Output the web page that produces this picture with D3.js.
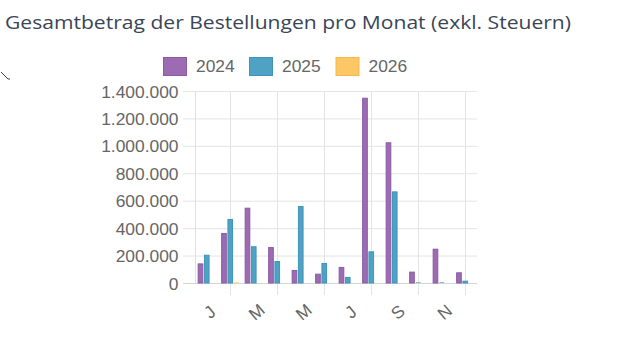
<!DOCTYPE html>
<html><head><meta charset="utf-8">
<script src="https://cdn.jsdelivr.net/npm/d3@7"></script>
<style>body{margin:0;background:#fff}svg{display:block}</style>
</head><body><svg id="c" width="643" height="343"></svg>
<script>
const months = ["J","F","M","A","M","J","J","A","S","O","N","D"];
const seriesNames = ["2024","2025","2026"];
const values2024 = [143000,365000,549000,262000,95000,68000,117000,1351000,1026000,83000,250000,78000];
const values2025 = [206000,467000,268000,160000,561000,146000,44000,231000,668000,4000,4000,17000];
const values2026 = [0,2000,0,0,0,0,0,0,0,0,0,0];
const yTicks = [0,200000,400000,600000,800000,1000000,1200000,1400000];
const titleText = "Gesamtbetrag der Bestellungen pro Monat (exkl. Steuern)";

const fills = ["#9c6bb2","#4fa2c3","#fdc765"];
const strokes = ["#8b5aa4","#3f95b9","#f5b94a"];
const allSeries = [values2024, values2025, values2026];

const svg = d3.select("#c");
const pLeft = 195, pRight = 477, pTop = 91, pBottom = 283;
const x = d3.scaleBand().domain(d3.range(12)).range([pLeft, pRight]).padding(0);
const bw = x.bandwidth();
const x1 = d3.scaleBand().domain(d3.range(3)).range([bw*0.1, bw*0.9]).paddingInner(0);
const y = d3.scaleLinear().domain([0,1400000]).range([pBottom, pTop]);
const fmt = v => d3.format(",")(v).replace(/,/g, ".");

// title
svg.append("text").attr("x",5).attr("y",29).attr("font-family","'Open Sans', Lato, sans-serif")
  .attr("font-size",19).attr("font-weight",400).attr("fill","#3a4555").attr("textLength",566).attr("lengthAdjust","spacingAndGlyphs")
  .text(titleText);

// stray cursor mark
svg.append("path").attr("d","M1,72 L6,77 L8,79 L10,79").attr("fill","none").attr("stroke","#444").attr("stroke-width",1);

// legend
const legX = [163.5, 249.5, 336];
seriesNames.forEach((n,i)=>{
  svg.append("rect").attr("x",legX[i]).attr("y",57.5).attr("width",23).attr("height",18)
    .attr("fill",fills[i]).attr("stroke",strokes[i]).attr("stroke-width",1);
  svg.append("text").attr("x",legX[i]+32.5).attr("y",72).attr("font-family","'Liberation Sans', Arial, sans-serif")
    .attr("font-size",17.4).attr("fill","#666").text(n);
});

// horizontal grid + y ticks
const yAxis = d3.axisLeft(y).tickValues(yTicks).tickFormat(fmt).tickSize(0);
const gy = svg.append("g").attr("transform",`translate(${pLeft-12},0)`).call(yAxis);
gy.select(".domain").remove();
gy.selectAll(".tick line").attr("stroke","#e4e4e4").attr("x1",0).attr("x2",pRight-pLeft+12);
gy.selectAll(".tick text").attr("x",-4.5).attr("dy","0.35em").attr("text-anchor","end")
  .attr("font-family","'Liberation Sans', Arial, sans-serif").attr("font-size",17.4).attr("fill","#666");

// vertical grid lines (between shown ticks) + tick marks
const gridIdx = [1,3,5,7,9,11];
gridIdx.forEach(i=>{
  const gx = Math.round(x(i)+bw/2)+0.5;
  svg.append("line").attr("x1",gx).attr("x2",gx).attr("y1",pTop).attr("y2",pBottom+12).attr("stroke","#e4e4e4");
});
svg.append("line").attr("x1",pLeft+0.5).attr("x2",pLeft+0.5).attr("y1",pTop).attr("y2",pBottom).attr("stroke","#e0e0e0");
svg.append("line").attr("x1",pLeft-12).attr("x2",pRight).attr("y1",pBottom+0.5).attr("y2",pBottom+0.5).attr("stroke","#d4d4d4");

// bars
allSeries.forEach((vals,s)=>{
  svg.append("g").selectAll("rect").data(vals).join("rect")
    .attr("x",(d,i)=>x(i)+x1(s)+x1.bandwidth()*0.05+0.5)
    .attr("width",x1.bandwidth()*0.9-1)
    .attr("y",d=>Math.min(y(d)+0.5,pBottom-1))
    .attr("height",d=>Math.max(1,pBottom-y(d)-0.5))
    .attr("fill",fills[s])
    .attr("stroke",d=>(pBottom-y(d))>1.5?strokes[s]:"none").attr("stroke-width",1)
    .attr("fill-opacity",d=>(pBottom-y(d))>1.5?1:0.7)
    .attr("display",d=>d>0?null:"none");
});

// x labels (every other month)
const xg = svg.append("g").attr("transform",`translate(0,${pBottom})`)
  .call(d3.axisBottom(x).tickValues(d3.range(0,12,2)).tickFormat(i=>months[i]).tickSize(0));
xg.select(".domain").remove();
xg.selectAll(".tick text").attr("transform","translate(3,29) rotate(-40)").attr("y",0).attr("dy","0.35em")
  .attr("text-anchor","middle").attr("font-family","'Liberation Sans', Arial, sans-serif")
  .attr("font-size",17.4).attr("fill","#666");
</script></body></html>
